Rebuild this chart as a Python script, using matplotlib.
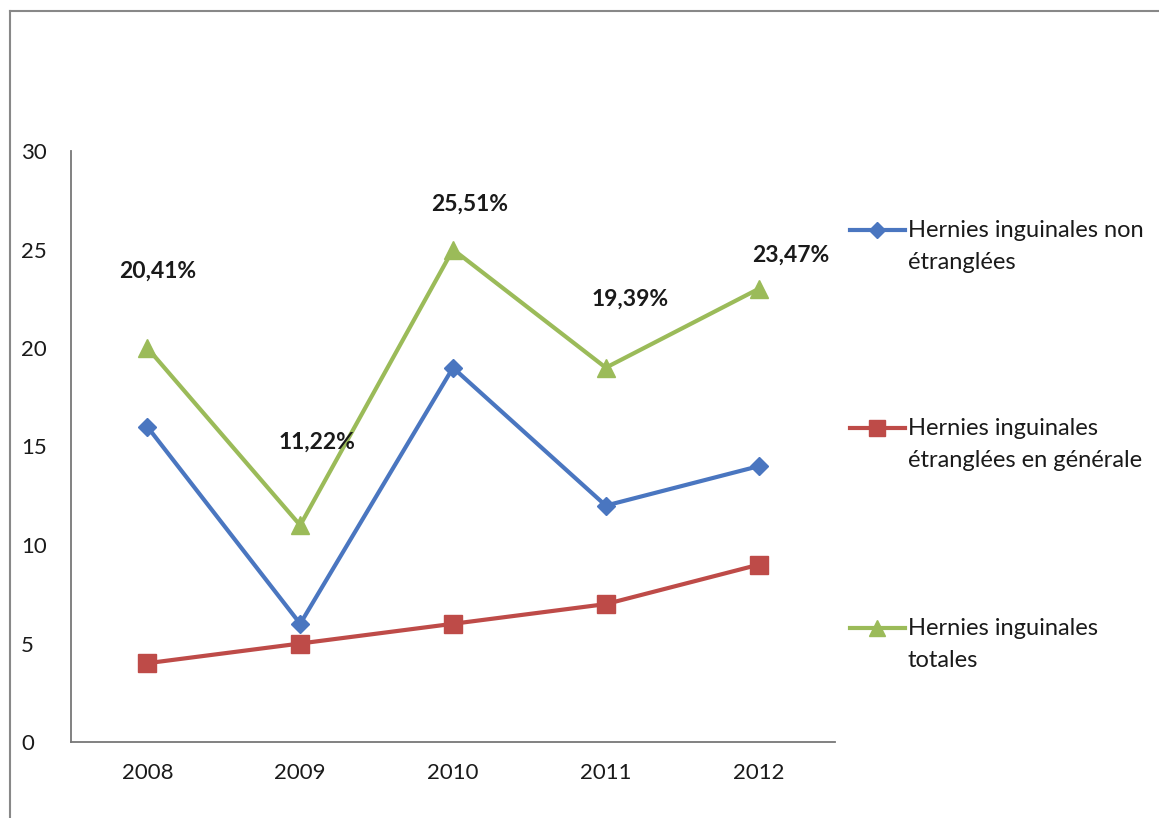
import matplotlib
matplotlib.use("Agg")
import matplotlib.pyplot as plt
from matplotlib.lines import Line2D
import numpy as np

plt.rcParams['font.family'] = ['Lato', 'DejaVu Sans']

years = ['2008', '2009', '2010', '2011', '2012']
non_etranglees = [16, 6, 19, 12, 14]
etranglees = [4, 5, 6, 7, 9]
totales = [20, 11, 25, 19, 23]
pct_labels = ['20,41%', '11,22%', '25,51%', '19,39%', '23,47%']
# label positions (x in categories, y in data units)
pct_dx = [0.07, 1.11, 2.11, 3.16, 4.21]
pct_y = [23.9, 15.2, 27.3, 22.5, 24.7]

labels = ['Hernies inguinales non\nétranglées',
          'Hernies inguinales\nétranglées en générale',
          'Hernies inguinales\ntotales']

blue = '#4a76c0'
red = '#be4b48'
green = '#9bbb59'

W, H = 1159, 818
fig = plt.figure(figsize=(W / 100, H / 100), dpi=100)
ax = fig.add_axes([71 / W, 1 - 742 / H, (835 - 71) / W, (742 - 151) / H])

x = np.arange(len(years))
ax.plot(x, non_etranglees, color=blue, lw=3, marker='D', ms=9.5, zorder=3)
ax.plot(x, etranglees, color=red, lw=3, marker='s', ms=12.5, zorder=3)
ax.plot(x, totales, color=green, lw=3, marker='^', ms=13, zorder=3)

for xi, yi, s in zip(pct_dx, pct_y, pct_labels):
    ax.text(xi, yi, s, ha='center', va='center', fontsize=16.5,
            fontweight='bold', color='#1a1a1a')

ax.set_xlim(-0.5, 4.5)
ax.set_ylim(0, 30)
ax.set_yticks(range(0, 31, 5))
ax.set_xticks(x)
ax.set_xticklabels(years)
ax.tick_params(axis='both', length=0, labelsize=16, colors='#1a1a1a')
ax.tick_params(axis='x', pad=15)
ax.tick_params(axis='y', pad=36)
for lab in ax.get_yticklabels():
    lab.set_horizontalalignment('left')
ax.spines['top'].set_visible(False)
ax.spines['right'].set_visible(False)
for sp in ('left', 'bottom'):
    ax.spines[sp].set_color('#777777')
    ax.spines[sp].set_linewidth(1.3)

# legend, drawn as separate entries on the right
leg_y = [230, 428, 628]
styles = [(blue, 'D', 8), (red, 's', 11), (green, '^', 11)]
for yy, lab, (c, m, s) in zip(leg_y, labels, styles):
    fy = 1 - yy / H
    fig.add_artist(Line2D([850 / W, 905 / W], [fy, fy], color=c, lw=3,
                          transform=fig.transFigure))
    fig.add_artist(Line2D([877 / W], [fy], color=c, marker=m, ms=s,
                          transform=fig.transFigure))
    fig.text(908 / W, fy + 10 / H, lab, ha='left', va='top',
             fontsize=17, color='#1a1a1a', linespacing=1.62,
             transform=fig.transFigure)

# outer frame
fig.add_artist(Line2D([10 / W, 1.0], [1 - 11 / H, 1 - 11 / H], color='#888888',
                      lw=1.5, transform=fig.transFigure))
fig.add_artist(Line2D([10 / W, 10 / W], [1 - 11 / H, 0], color='#888888',
                      lw=1.5, transform=fig.transFigure))

fig.savefig('out.png', dpi=100, facecolor='white')
